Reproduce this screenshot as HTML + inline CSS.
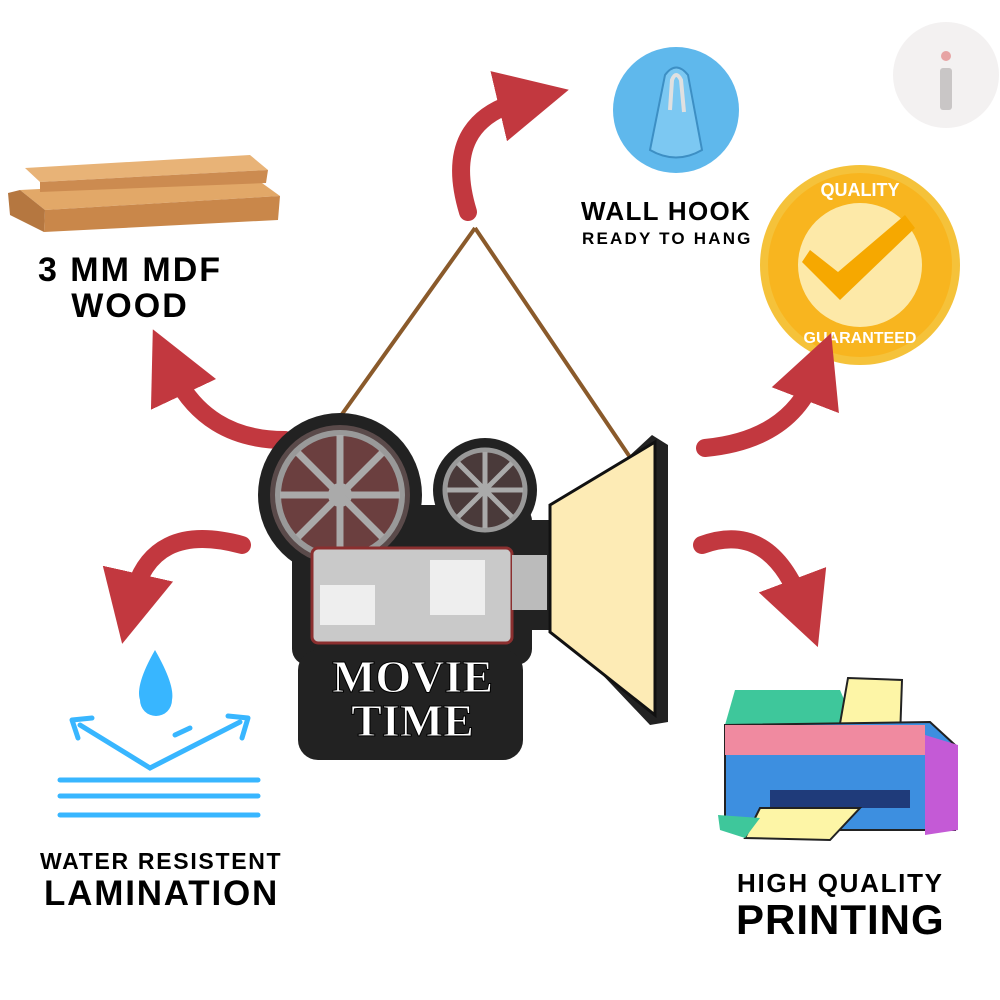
<!DOCTYPE html>
<html><head><meta charset="utf-8"><style>
html,body{margin:0;padding:0;background:#fff;}
#c{position:relative;width:1000px;height:1000px;overflow:hidden;font-family:"Liberation Sans",sans-serif;}
.t{position:absolute;font-weight:bold;color:#000;white-space:nowrap;}
</style></head><body><div id="c">
<svg width="1000" height="1000" viewBox="0 0 1000 1000" style="position:absolute;left:0;top:0">
<defs>
<marker id="ah" markerWidth="4" markerHeight="4" refX="1.5" refY="2" orient="auto" markerUnits="strokeWidth">
<path d="M0,0 L4,2 L0,4 z" fill="#c2383f"/></marker>
</defs>
<circle cx="946" cy="75" r="53" fill="#f3f1f1"/>
<rect x="940" y="68" width="12" height="42" rx="3" fill="#c9c6c6"/>
<circle cx="946" cy="56" r="5" fill="#e7a4a4"/>
<polygon points="20,190 255,178 280,196 45,210" fill="#e2a868"/>
<polygon points="45,210 280,196 278,220 44,232" fill="#c9874a"/>
<polygon points="8,193 20,190 45,210 44,232 10,215" fill="#b57740"/>
<polygon points="25,168 250,155 268,170 40,182" fill="#e8b377"/>
<polygon points="40,182 268,170 266,183 40,192" fill="#cc8b50"/>
<circle cx="676" cy="110" r="63" fill="#5fb8ec"/>
<path d="M650,150 L665,75 Q676,60 688,75 L702,150 Q676,165 650,150z" fill="#7cc8f2" stroke="#3d8fc4" stroke-width="2"/>
<path d="M670,110 L672,80 Q676,70 681,80 L684,112" fill="none" stroke="#e0e0e0" stroke-width="4"/>
<circle cx="860" cy="265" r="100" fill="#f5c23a"/>
<circle cx="860" cy="265" r="92" fill="#f8b51f"/>
<circle cx="860" cy="265" r="62" fill="#fde9a8"/>
<path d="M810,250 L838,272 L905,215 L915,228 L840,300 L802,262z" fill="#f6a800"/>
<text x="860" y="196" text-anchor="middle" font-family="Liberation Sans" font-weight="bold" font-size="18" fill="#fff">QUALITY</text>
<text x="860" y="343" text-anchor="middle" font-family="Liberation Sans" font-weight="bold" font-size="16" fill="#fff">GUARANTEED</text>
<g fill="none" stroke="#c2383f" stroke-width="18" stroke-linecap="round" marker-end="url(#ah)">
<path d="M468,212 Q440,120 525,100"/>
<path d="M285,440 Q205,440 172,370"/>
<path d="M242,545 Q150,520 132,600"/>
<path d="M705,448 Q790,440 815,375"/>
<path d="M702,545 Q770,520 802,605"/>
</g>
<path d="M475,228 L315,452 M475,228 L640,472" stroke="#8a5a2b" stroke-width="4" fill="none"/>
<g>
<circle cx="340" cy="495" r="82" fill="#222"/>
<circle cx="485" cy="490" r="52" fill="#222"/>
<rect x="292" y="505" width="240" height="160" rx="16" fill="#222"/>
<polygon points="520,520 560,520 652,435 668,445 668,722 650,725 560,630 520,630" fill="#222"/>
<rect x="298" y="650" width="225" height="110" rx="20" fill="#222"/>
<circle cx="340" cy="495" r="70" fill="#5a4a4a"/>
<circle cx="340" cy="495" r="62" fill="#6b3f3f" stroke="#999" stroke-width="6"/>
<circle cx="340" cy="495" r="12" fill="#aaa"/>
<g stroke="#aaa" stroke-width="7"><line x1="340" y1="435" x2="340" y2="555"/><line x1="280" y1="495" x2="400" y2="495"/><line x1="298" y1="453" x2="382" y2="537"/><line x1="382" y1="453" x2="298" y2="537"/></g>
<circle cx="485" cy="490" r="40" fill="#4a3a3a" stroke="#999" stroke-width="5"/>
<g stroke="#aaa" stroke-width="5"><line x1="485" y1="452" x2="485" y2="528"/><line x1="447" y1="490" x2="523" y2="490"/><line x1="458" y1="463" x2="512" y2="517"/><line x1="512" y1="463" x2="458" y2="517"/></g>
<rect x="312" y="548" width="200" height="95" rx="6" fill="#c9c9c9" stroke="#8b2f2f" stroke-width="3"/>
<rect x="320" y="585" width="55" height="40" fill="#eee"/>
<rect x="430" y="560" width="55" height="55" fill="#eee"/>
<rect x="512" y="555" width="35" height="55" fill="#bbb"/>
<polygon points="550,505 655,442 655,715 550,632" fill="#fdebb5" stroke="#111" stroke-width="3"/>
</g>
<path d="M155,650 Q135,685 140,700 A16,16 0 0,0 172,700 Q175,685 155,650z" fill="#38b6ff"/>
<g stroke="#38b6ff" stroke-width="5" fill="none" stroke-linecap="round">
<path d="M80,725 L150,768 L240,722"/><path d="M72,720 L92,718 M72,720 L78,738"/><path d="M248,718 L228,716 M248,718 L242,738"/>
<line x1="60" y1="780" x2="258" y2="780"/><line x1="60" y1="796" x2="258" y2="796"/><line x1="60" y1="815" x2="258" y2="815"/>
<line x1="175" y1="735" x2="190" y2="728"/></g>
<polygon points="735,690 840,690 855,725 725,725" fill="#3ec79b"/>
<polygon points="848,678 902,680 900,738 838,735" fill="#fdf5a6" stroke="#222" stroke-width="2"/>
<polygon points="725,725 930,722 955,745 955,830 725,830" fill="#3d8fe0" stroke="#222" stroke-width="2"/>
<rect x="725" y="725" width="200" height="30" fill="#f08aa0"/>
<polygon points="925,735 958,745 958,830 925,835" fill="#c45ad6"/>
<rect x="770" y="790" width="140" height="18" fill="#1f3b7a"/>
<polygon points="760,808 860,808 830,840 745,838" fill="#fdf5a6" stroke="#222" stroke-width="2"/>
<polygon points="718,815 760,818 745,838 720,830" fill="#3ec79b"/>
</svg>
<div style="position:absolute;left:300px;top:655px;width:225px;text-align:center;font-family:'Liberation Serif',serif;font-weight:bold;font-size:46px;line-height:44px;color:#fff;-webkit-text-stroke:1px #000;">MOVIE<br>TIME</div>
<div class="t" style="left:30px;top:252px;font-size:34px;line-height:36px;text-align:center;width:200px;letter-spacing:2px">3 MM MDF<br>WOOD</div>
<div class="t" style="left:581px;top:196px;font-size:26px;letter-spacing:1.3px">WALL HOOK</div>
<div class="t" style="left:582px;top:229px;font-size:17px;letter-spacing:2.2px">READY TO HANG</div>
<div class="t" style="left:40px;top:848px;font-size:23px;letter-spacing:1.7px">WATER RESISTENT</div>
<div class="t" style="left:44px;top:874px;font-size:35px;letter-spacing:1.8px">LAMINATION</div>
<div class="t" style="left:737px;top:868px;font-size:26px;letter-spacing:1.7px">HIGH QUALITY</div>
<div class="t" style="left:736px;top:896px;font-size:42px;letter-spacing:1px">PRINTING</div>
</div></body></html>
